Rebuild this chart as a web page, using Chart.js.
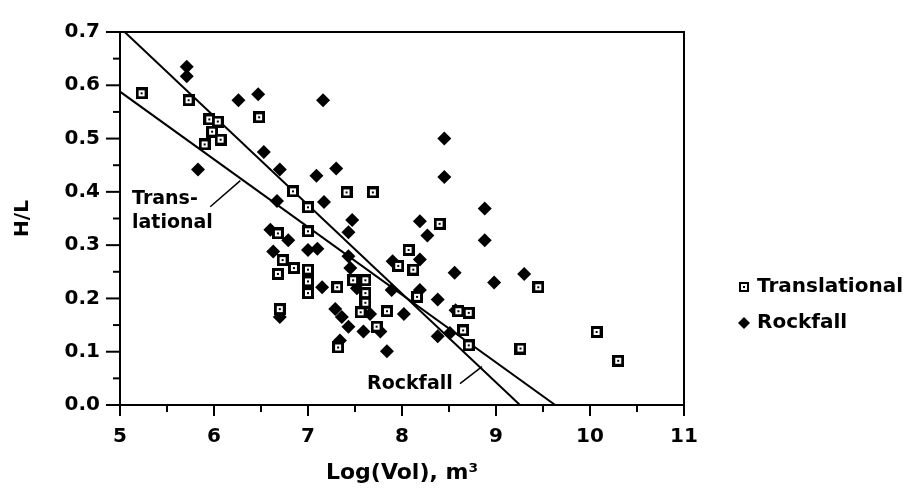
<!DOCTYPE html>
<html>
<head>
<meta charset="utf-8">
<script src="https://cdn.jsdelivr.net/npm/chart.js@4.4.1/dist/chart.umd.min.js"></script>
<style>
  html, body { margin: 0; padding: 0; background: #fff; }
</style>
</head>
<body>
<canvas id="chart" width="914" height="498"></canvas>
<script>
// DATA
const transX = [5.23, 5.73, 5.95, 6.04, 5.98, 5.90, 6.07, 6.48, 6.84, 7.00, 7.41, 7.69, 7.00, 6.68, 6.73,
  6.85, 6.68, 7.00, 7.00, 7.00, 7.31, 7.48, 7.61, 7.61, 7.61, 7.56, 7.73, 6.70, 7.32, 8.07, 7.96, 8.12,
  8.40, 8.16, 8.71, 7.84, 8.65, 8.71, 9.45, 9.26, 10.07, 10.30, 8.60];
const transY = [0.585, 0.572, 0.536, 0.532, 0.513, 0.489, 0.498, 0.540, 0.401, 0.371, 0.399, 0.399, 0.326, 0.322, 0.272,
  0.257, 0.246, 0.254, 0.232, 0.210, 0.221, 0.234, 0.234, 0.210, 0.192, 0.174, 0.147, 0.180, 0.108, 0.291, 0.261, 0.254,
  0.340, 0.203, 0.173, 0.176, 0.140, 0.112, 0.221, 0.106, 0.137, 0.083, 0.176];

const rockX = [5.71, 5.71, 6.26, 6.47, 6.53, 6.70, 5.83, 6.67, 7.16, 8.45, 7.09, 7.30, 8.45, 7.17, 8.88,
  7.47, 7.43, 6.60, 6.79, 7.00, 7.10, 6.63, 7.15, 7.43, 7.45, 7.52, 7.66, 7.29, 7.36, 7.43, 7.59, 6.70,
  7.34, 8.19, 8.27, 8.88, 8.19, 7.90, 8.56, 8.98, 7.89, 8.19, 8.38, 8.57, 8.02, 7.77, 8.38, 8.51, 7.84, 9.30];
const rockY = [0.635, 0.617, 0.572, 0.583, 0.475, 0.442, 0.442, 0.383, 0.572, 0.500, 0.430, 0.444, 0.428, 0.381, 0.369,
  0.347, 0.324, 0.329, 0.309, 0.291, 0.293, 0.288, 0.221, 0.279, 0.257, 0.219, 0.171, 0.180, 0.165, 0.147, 0.138, 0.165,
  0.121, 0.345, 0.318, 0.309, 0.273, 0.270, 0.248, 0.230, 0.216, 0.216, 0.198, 0.178, 0.171, 0.138, 0.129, 0.135, 0.101, 0.246];

// regression lines, end points
const transLineX = [5.0, 9.63];
const transLineY = [0.588, 0.0];
const rockLineX = [5.05, 9.255];
const rockLineY = [0.70, 0.0];

const xTicks = [5, 6, 7, 8, 9, 10, 11];
const yTicks = [0.0, 0.1, 0.2, 0.3, 0.4, 0.5, 0.6, 0.7];
const seriesNames = ['Translational', 'Rockfall'];

// labels on the lines (text anchor + leader, in data units)
const notes = [
  { lines: ['Trans-', 'lational'], at: [5.128, 0.387], step: 0.045, lead: [[5.96, 0.372], [6.28, 0.421]] },
  { lines: ['Rockfall'], at: [7.628, 0.040], step: 0, lead: [[8.617, 0.040], [8.851, 0.072]] }
];

const zip = (xs, ys) => xs.map((x, i) => ({ x: x, y: ys[i] }));
const FONT = "'DejaVu Sans', sans-serif";

// open square with a dot
function squareMark(size, bw) {
  const c = document.createElement('canvas');
  c.width = size; c.height = size;
  const g = c.getContext('2d');
  g.fillStyle = '#000'; g.fillRect(0, 0, size, size);
  g.fillStyle = '#fff'; g.fillRect(bw, bw, size - 2 * bw, size - 2 * bw);
  g.fillStyle = '#000'; g.fillRect(size / 2 - 1, size / 2 - 1, 2, 2);
  return c;
}
const sqPt = squareMark(12, 3);
const sqLeg = squareMark(10, 2);

// box, ticks, line labels, legend
const extras = {
  id: 'extras',
  afterDraw(c) {
    const { ctx, chartArea: a, scales: { x, y } } = c;
    ctx.save();
    ctx.strokeStyle = '#000';
    ctx.fillStyle = '#000';
    ctx.lineWidth = 2;

    ctx.beginPath();
    ctx.moveTo(a.left, a.top); ctx.lineTo(a.right, a.top); ctx.lineTo(a.right, a.bottom);
    ctx.stroke();

    // y ticks, major + half steps
    yTicks.forEach((v, i) => {
      let p = y.getPixelForValue(v);
      ctx.beginPath(); ctx.moveTo(a.left - 14, p); ctx.lineTo(a.left + 1, p); ctx.stroke();
      if (i < yTicks.length - 1) {
        p = y.getPixelForValue((v + yTicks[i + 1]) / 2);
        ctx.beginPath(); ctx.moveTo(a.left - 7, p); ctx.lineTo(a.left, p); ctx.stroke();
      }
    });
    xTicks.forEach((v, i) => {
      let p = x.getPixelForValue(v);
      ctx.beginPath(); ctx.moveTo(p, a.bottom - 1); ctx.lineTo(p, a.bottom + 11); ctx.stroke();
      if (i < xTicks.length - 1) {
        p = x.getPixelForValue((v + xTicks[i + 1]) / 2);
        ctx.beginPath(); ctx.moveTo(p, a.bottom); ctx.lineTo(p, a.bottom + 7); ctx.stroke();
      }
    });

    // line labels
    ctx.font = 'bold 19px ' + FONT;
    ctx.textBaseline = 'middle';
    ctx.textAlign = 'left';
    notes.forEach(n => {
      n.lines.forEach((t, k) => {
        ctx.fillText(t, x.getPixelForValue(n.at[0]), y.getPixelForValue(n.at[1] - k * n.step));
      });
      ctx.lineWidth = 1.5;
      ctx.beginPath();
      ctx.moveTo(x.getPixelForValue(n.lead[0][0]), y.getPixelForValue(n.lead[0][1]));
      ctx.lineTo(x.getPixelForValue(n.lead[1][0]), y.getPixelForValue(n.lead[1][1]));
      ctx.stroke();
    });

    // legend
    const lx = 744, ly = [287, 323];
    ctx.drawImage(sqLeg, lx - 5, ly[0] - 5);
    ctx.beginPath();
    ctx.moveTo(lx, ly[1] - 6); ctx.lineTo(lx + 6, ly[1]); ctx.lineTo(lx, ly[1] + 6); ctx.lineTo(lx - 6, ly[1]);
    ctx.closePath(); ctx.fill();
    ctx.font = 'bold 20px ' + FONT;
    seriesNames.forEach((s, i) => ctx.fillText(s, lx + 13, ly[i]));
    ctx.restore();
  }
};

new Chart(document.getElementById('chart'), {
  type: 'scatter',
  data: {
    datasets: [
      { label: seriesNames[0], data: zip(transX, transY), pointStyle: sqPt, pointRadius: 6,
        backgroundColor: '#000', borderColor: '#000' },
      { label: seriesNames[1], data: zip(rockX, rockY), pointStyle: 'rectRot', pointRadius: 7,
        backgroundColor: '#000', borderColor: '#000', borderWidth: 0 },
      { label: 'fitT', type: 'line', data: zip(transLineX, transLineY), showLine: true, pointRadius: 0,
        borderColor: '#000', borderWidth: 2, fill: false },
      { label: 'fitR', type: 'line', data: zip(rockLineX, rockLineY), showLine: true, pointRadius: 0,
        borderColor: '#000', borderWidth: 2, fill: false }
    ]
  },
  options: {
    responsive: false,
    animation: false,
    events: [],
    layout: { padding: { top: 16, right: 230, left: 0, bottom: 0 } },
    plugins: { legend: { display: false }, tooltip: { enabled: false } },
    scales: {
      x: {
        type: 'linear', min: 5, max: 11,
        afterBuildTicks: s => { s.ticks = xTicks.map(v => ({ value: v })); },
        afterFit: s => { s.height = 93; },
        grid: { drawOnChartArea: false, drawTicks: false },
        border: { display: true, color: '#000', width: 2 },
        ticks: { color: '#000', padding: 20, maxRotation: 0, font: { family: FONT, size: 20, weight: 'bold' } },
        title: { display: true, text: 'Log(Vol), m³', color: '#000', padding: { bottom: 12 },
          font: { family: FONT, size: 22, weight: 'bold' } }
      },
      y: {
        type: 'linear', min: 0, max: 0.7,
        afterBuildTicks: s => { s.ticks = yTicks.map(v => ({ value: v })); },
        afterFit: s => { s.width = 120; },
        grid: { drawOnChartArea: false, drawTicks: false },
        border: { display: true, color: '#000', width: 2 },
        ticks: { color: '#000', padding: 20, callback: v => v.toFixed(1),
          font: { family: FONT, size: 20, weight: 'bold' } },
        title: { display: true, text: 'H/L', color: '#000', padding: { top: 11 },
          font: { family: FONT, size: 20, weight: 'bold' } }
      }
    }
  },
  plugins: [extras]
});
</script>
</body>
</html>
